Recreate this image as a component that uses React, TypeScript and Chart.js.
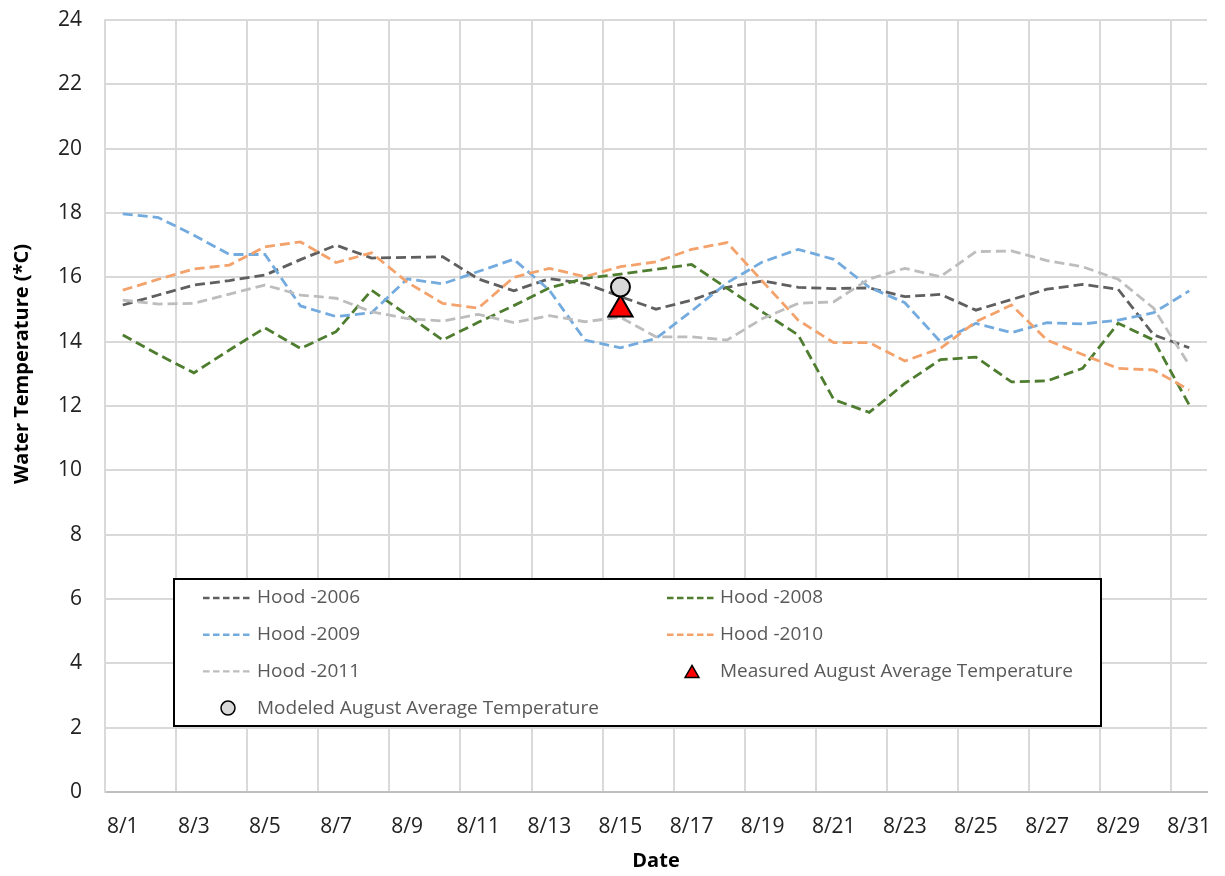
import React, { useEffect, useRef } from 'react';
import { Chart, registerables } from 'chart.js';

Chart.register(...registerables);

const dateLabels = [
  '8/1', '8/2', '8/3', '8/4', '8/5', '8/6', '8/7', '8/8', '8/9', '8/10',
  '8/11', '8/12', '8/13', '8/14', '8/15', '8/16', '8/17', '8/18', '8/19', '8/20',
  '8/21', '8/22', '8/23', '8/24', '8/25', '8/26', '8/27', '8/28', '8/29', '8/30', '8/31',
];

const hood2006 = [15.14, 15.45, 15.76, 15.9, 16.07, 16.55, 17.0, 16.6, 16.62, 16.64, 15.95, 15.58, 15.96, 15.81, 15.4, 15.01, 15.29, 15.69, 15.89, 15.69, 15.65, 15.67, 15.4, 15.47, 14.98, 15.31, 15.63, 15.78, 15.63, 14.21, 13.81];
const hood2008 = [14.21, 13.6, 13.03, 13.74, 14.43, 13.79, 14.31, 15.6, 14.83, 14.05, 14.6, 15.12, 15.67, 15.97, 16.1, 16.25, 16.4, 15.66, 14.92, 14.21, 12.2, 11.8, 12.7, 13.44, 13.52, 12.75, 12.78, 13.17, 14.57, 14.05, 12.03];
const hood2009 = [17.97, 17.86, 17.31, 16.71, 16.71, 15.11, 14.78, 14.9, 15.95, 15.8, 16.18, 16.56, 15.6, 14.05, 13.81, 14.1, 14.95, 15.83, 16.48, 16.87, 16.56, 15.69, 15.21, 14.0, 14.57, 14.28, 14.59, 14.55, 14.67, 14.9, 15.58];
const hood2010 = [15.6, 15.94, 16.26, 16.38, 16.95, 17.1, 16.46, 16.76, 15.85, 15.19, 15.04, 16.0, 16.28, 16.02, 16.33, 16.48, 16.87, 17.08, 15.87, 14.67, 13.97, 13.97, 13.4, 13.79, 14.62, 15.14, 14.05, 13.6, 13.17, 13.12, 12.5];
const hood2011 = [15.29, 15.17, 15.19, 15.48, 15.76, 15.45, 15.35, 14.93, 14.72, 14.64, 14.85, 14.59, 14.81, 14.62, 14.76, 14.15, 14.15, 14.05, 14.72, 15.19, 15.24, 15.95, 16.28, 16.02, 16.8, 16.82, 16.52, 16.33, 15.94, 15.04, 13.27];

const summaryDate = '8/15';
const measuredAverage = 15.0;
const modeledAverage = 15.7;

const yTicks = [0, 2, 4, 6, 8, 10, 12, 14, 16, 18, 20, 22, 24];

const seriesNames = ['Hood -2006', 'Hood -2008', 'Hood -2009', 'Hood -2010', 'Hood -2011'];
const seriesColors = ['#5F5F5F', '#4E7D2F', '#74ABDF', '#F4A26B', '#BDBDBD'];
const seriesValues = [hood2006, hood2008, hood2009, hood2010, hood2011];

const FONT = '"Open Sans", "Liberation Sans", sans-serif';

function drawMarker(ctx: CanvasRenderingContext2D, style: string, x: number, y: number, r: number, fill: string, stroke: string, lw: number) {
  ctx.beginPath();
  if (style === 'triangle') {
    let rad = 0;
    const step = (2 * Math.PI) / 3;
    ctx.moveTo(x + Math.sin(rad) * r, y - Math.cos(rad) * r);
    rad += step;
    ctx.lineTo(x + Math.sin(rad) * r, y - Math.cos(rad) * r);
    rad += step;
    ctx.lineTo(x + Math.sin(rad) * r, y - Math.cos(rad) * r);
    ctx.closePath();
  } else {
    ctx.arc(x, y, r, 0, Math.PI * 2);
  }
  ctx.fillStyle = fill;
  ctx.fill();
  ctx.lineWidth = lw;
  ctx.strokeStyle = stroke;
  ctx.stroke();
}

const boxLegendPlugin = {
  id: 'boxLegend',
  afterDraw(chart: any) {
    const ctx: CanvasRenderingContext2D = chart.ctx;
    ctx.save();
    const bx = 174, by = 579, bw = 927, bh = 147;
    ctx.fillStyle = '#ffffff';
    ctx.fillRect(bx, by, bw, bh);
    ctx.strokeStyle = '#000000';
    ctx.lineWidth = 2;
    ctx.strokeRect(bx, by, bw, bh);

    const colLine = [203, 667];
    const colText = [257, 720];
    chart.data.datasets.forEach((ds: any, i: number) => {
      const col = i % 2;
      const row = Math.floor(i / 2);
      const y = 598 + row * 36.7;
      if (ds.showLine === false) {
        const cx = colLine[col] + 25;
        if (ds.pointStyle === 'triangle') {
          drawMarker(ctx, 'triangle', cx, y + 2, 8, ds.pointBackgroundColor, '#000', 1.5);
        } else {
          drawMarker(ctx, 'circle', cx, y, 7, ds.pointBackgroundColor, '#000', 1.5);
        }
      } else {
        ctx.beginPath();
        ctx.setLineDash([6.5, 3.5]);
        ctx.lineWidth = 2.4;
        ctx.strokeStyle = ds.borderColor;
        ctx.moveTo(colLine[col], y);
        ctx.lineTo(colLine[col] + 49, y);
        ctx.stroke();
        ctx.setLineDash([]);
      }
      ctx.fillStyle = '#595959';
      ctx.font = `19px ${FONT}`;
      ctx.textAlign = 'left';
      ctx.textBaseline = 'middle';
      ctx.fillText(ds.label, colText[col], y);
    });

    ctx.translate(22, 364);
    ctx.rotate(-Math.PI / 2);
    ctx.fillStyle = '#000000';
    ctx.font = `bold 20px ${FONT}`;
    ctx.textAlign = 'center';
    ctx.textBaseline = 'middle';
    ctx.fillText('Water Temperature (*C)', 0, 0);
    ctx.restore();
  },
};

export default function App() {
  const canvasRef = useRef<HTMLCanvasElement | null>(null);

  useEffect(() => {
    if (!canvasRef.current) return;
    const n = seriesNames.length + 2;
    const lineSets = seriesNames.map((name, i) => ({
      type: 'line' as const,
      label: name,
      data: seriesValues[i],
      borderColor: seriesColors[i],
      backgroundColor: seriesColors[i],
      borderWidth: 2.8,
      borderDash: [10, 5],
      pointRadius: 0,
      tension: 0,
      fill: false,
      order: n - i,
    }));
    const chart = new Chart(canvasRef.current, {
      type: 'line',
      data: {
        labels: dateLabels,
        datasets: [
          ...lineSets,
          {
            label: 'Measured August Average Temperature',
            data: [{ x: summaryDate, y: measuredAverage }],
            showLine: false,
            pointStyle: 'triangle',
            pointRadius: 14,
            pointBackgroundColor: '#FF0000',
            pointBorderColor: '#000000',
            pointBorderWidth: 2,
            borderColor: '#000000',
            backgroundColor: '#FF0000',
            order: 2,
          } as any,
          {
            label: 'Modeled August Average Temperature',
            data: [{ x: summaryDate, y: modeledAverage }],
            showLine: false,
            pointStyle: 'circle',
            pointRadius: 9.5,
            pointBackgroundColor: '#D9D9D9',
            pointBorderColor: '#000000',
            pointBorderWidth: 2,
            borderColor: '#000000',
            backgroundColor: '#D9D9D9',
            order: 1,
          } as any,
        ],
      },
      options: {
        animation: false,
        responsive: false,
        devicePixelRatio: 1,
        layout: { padding: { left: 0, right: 18, top: 20, bottom: 0 } },
        plugins: {
          legend: { display: false },
          tooltip: { enabled: false },
        },
        scales: {
          x: {
            type: 'category',
            offset: true,
            grid: {
              offset: true,
              drawTicks: false,
              lineWidth: 2,
              color: (c: any) => (c.index % 2 === 0 ? '#D9D9D9' : 'rgba(0,0,0,0)'),
            },
            border: { display: true, color: '#BFBFBF', width: 2 },
            ticks: {
              autoSkip: false,
              maxRotation: 0,
              minRotation: 0,
              padding: 22,
              color: '#222222',
              font: { family: FONT, size: 21 },
              callback: function (this: any, v: any, i: number) {
                return i % 2 === 0 ? dateLabels[i] : '';
              },
            },
            title: {
              display: true,
              text: 'Date',
              color: '#000000',
              font: { family: FONT, size: 20, weight: 'bold' },
              padding: { top: 0, bottom: 3 },
            },
            afterFit: (s: any) => {
              s.height = 84;
              s.paddingLeft = 0;
              s.paddingRight = 0;
            },
          },
          y: {
            min: 0,
            max: 24,
            afterBuildTicks: (s: any) => {
              s.ticks = yTicks.map((v) => ({ value: v }));
            },
            grid: {
              drawTicks: false,
              lineWidth: 2,
              color: '#D9D9D9',
            },
            border: { display: true, color: '#D9D9D9', width: 2 },
            ticks: {
              padding: 23,
              color: '#222222',
              font: { family: FONT, size: 21 },
            },
            afterFit: (s: any) => {
              s.width = 105;
              s.paddingTop = 0;
              s.paddingBottom = 0;
            },
          },
        },
      },
      plugins: [boxLegendPlugin],
    } as any);
    return () => chart.destroy();
  }, []);

  return (
    <div style={{ position: 'absolute', left: 0, top: 0, width: 1225, height: 876, background: '#fff' }}>
      <canvas ref={canvasRef} width={1225} height={876} style={{ display: 'block' }} />
    </div>
  );
}
